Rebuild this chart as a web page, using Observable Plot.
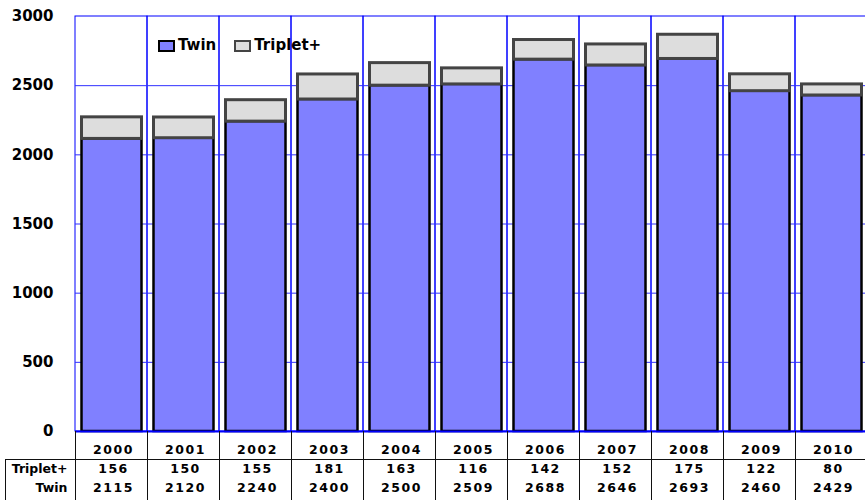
<!DOCTYPE html>
<html>
<head>
<meta charset="utf-8">
<script src="https://cdn.jsdelivr.net/npm/d3@7"></script>
<script src="https://cdn.jsdelivr.net/npm/@observablehq/plot@0.6"></script>
<style>
  body { margin: 0; background: #fff; font-family: "DejaVu Sans", Verdana, sans-serif; }
  #wrap { position: relative; width: 865px; height: 500px; overflow: hidden; background: #fff; }
  #legend { position: absolute; top: 38px; left: 158px; display: flex; align-items: center;
            font: bold 15px "DejaVu Sans", Verdana, sans-serif; line-height: 15px; color: #000; }
  #legend .item { display: flex; align-items: center; margin-right: 18px; }
  #legend .sw { display: inline-block; width: 13px; height: 8px; border: 2px solid #000; margin-right: 3px; }
</style>
</head>
<body>
<div id="wrap"><div id="legend"></div></div>
<script>
// ---- data ----
const years = ["2000","2001","2002","2003","2004","2005","2006","2007","2008","2009","2010"];
const twin = [2115, 2120, 2240, 2400, 2500, 2509, 2688, 2646, 2693, 2460, 2429];
const triplet = [156, 150, 155, 181, 163, 116, 142, 152, 175, 122, 80];
const seriesNames = ["Twin", "Triplet+"];
const seriesFill = ["#8080ff", "#dddddd"];
const seriesStroke = ["#000000", "#444444"];
const yTicks = [0, 500, 1000, 1500, 2000, 2500, 3000];

const twinRows = years.map((y, i) => ({year: y, y1: 0, y2: twin[i], v: twin[i]}));
const tripRows = years.map((y, i) => ({year: y, y1: twin[i], y2: twin[i] + triplet[i], v: triplet[i]}));

const font = '"DejaVu Sans", Verdana, sans-serif';
const tableSize = 12.5;

const plot = Plot.plot({
  width: 865,
  height: 500,
  marginLeft: 75,
  marginRight: -2,
  marginTop: 16,
  marginBottom: 69,
  style: {fontFamily: font, fontWeight: "bold", fontSize: "15px", color: "#000", background: "transparent", overflow: "hidden"},
  x: {type: "band", domain: years, padding: 0, axis: null},
  y: {domain: [0, 3000], ticks: yTicks, tickSize: 0, tickPadding: 22, label: null, tickFormat: d => String(d)},
  marks: [
    Plot.cell(years, {x: d => d, fill: "none", stroke: "#0000ff", strokeWidth: 1, inset: 0}),
    Plot.ruleY(yTicks.filter(v => v > 0 && v < 3000), {stroke: "#3030ff", strokeWidth: 1}),
    Plot.barY(twinRows, {x: "year", y1: "y1", y2: "y2", fill: seriesFill[0], stroke: seriesStroke[0], strokeWidth: 2.5, insetLeft: 6.5, insetRight: 5.5}),
    Plot.barY(tripRows, {x: "year", y1: "y1", y2: "y2", fill: seriesFill[1], stroke: seriesStroke[1], strokeWidth: 3, insetLeft: 6.5, insetRight: 5.5}),
    Plot.ruleY([0], {stroke: "#0000ff", strokeWidth: 2}),
    // data table
    Plot.text(years, {x: d => d, text: d => d, frameAnchor: "bottom", dy: 22, dx: 2, fontSize: tableSize, fontWeight: "bold"}),
    Plot.text(tripRows, {x: "year", text: d => String(d.v), frameAnchor: "bottom", dy: 41, dx: 2, fontSize: tableSize, fontWeight: "bold"}),
    Plot.text(twinRows, {x: "year", text: d => String(d.v), frameAnchor: "bottom", dy: 60, dx: 2, fontSize: tableSize, fontWeight: "bold"}),
    Plot.text([seriesNames[1]], {text: d => d, frameAnchor: "bottom-left", textAnchor: "end", dx: -8, dy: 41, fontSize: tableSize, fontWeight: "bold"}),
    Plot.text([seriesNames[0]], {text: d => d, frameAnchor: "bottom-left", textAnchor: "end", dx: -8, dy: 60, fontSize: tableSize, fontWeight: "bold"})
  ]
});

const svg = d3.select(plot);
// letter-spaced numbers in the data table (only the table texts use the small size)
svg.selectAll("text").filter(function () {
  const p = this.parentNode;
  return p && p.getAttribute("font-size") == String(tableSize) && /^\d+$/.test(this.textContent);
}).attr("letter-spacing", "1.5px");

// table grid lines, positioned with the plot's own scales
const xs = plot.scale("x");
const ys = plot.scale("y");
const y0 = ys.apply(0);
const bounds = years.map(y => xs.apply(y)).concat([xs.apply(years[years.length - 1]) + xs.bandwidth]);
const g = svg.append("g").attr("stroke", "#111").attr("stroke-width", 1).attr("shape-rendering", "crispEdges");
bounds.forEach(b => g.append("line").attr("x1", b).attr("x2", b).attr("y1", y0).attr("y2", 500));
g.append("line").attr("x1", 5).attr("x2", 867).attr("y1", y0 + 28).attr("y2", y0 + 28);
g.append("line").attr("x1", 5).attr("x2", 5).attr("y1", y0 + 28).attr("y2", 500);

const wrap = document.getElementById("wrap");
wrap.insertBefore(plot, wrap.firstChild);

// legend
const legend = d3.select("#legend");
seriesNames.forEach((s, i) => {
  const it = legend.append("div").attr("class", "item");
  it.append("span").attr("class", "sw").style("background", seriesFill[i]).style("border-color", seriesStroke[i]);
  it.append("span").text(s);
});
</script>
</body>
</html>
